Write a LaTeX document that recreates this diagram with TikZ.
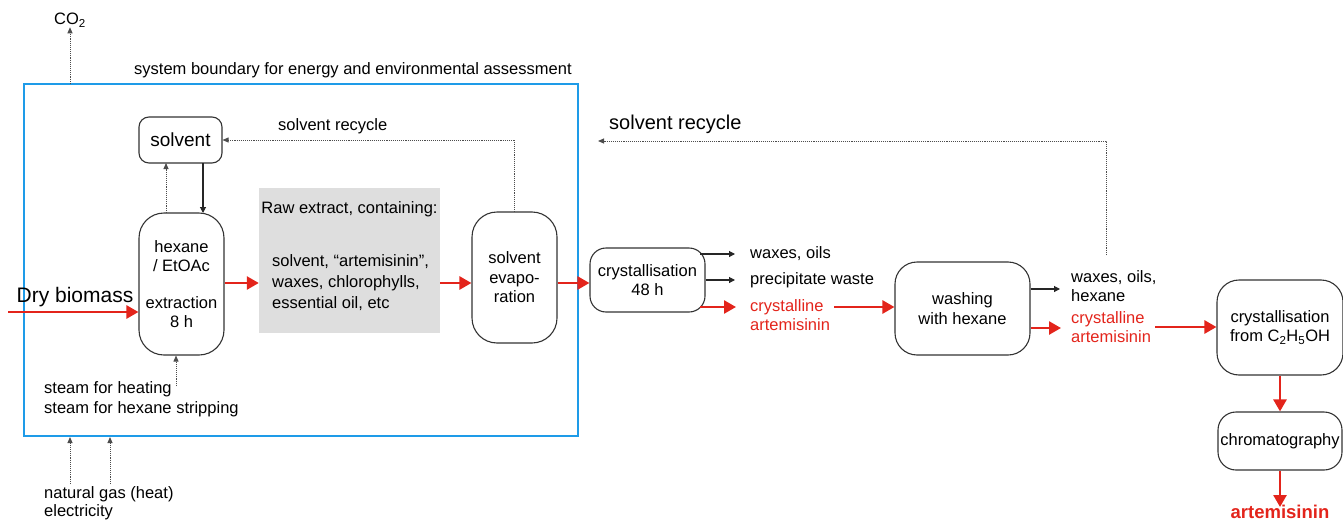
\documentclass[tikz,border=0pt]{standalone}
\usepackage{fontspec}
\setmainfont{Liberation Sans}
\usetikzlibrary{arrows.meta}
\definecolor{bblue}{HTML}{1E9BE8}
\definecolor{rred}{HTML}{E3241B}
\definecolor{ggray}{HTML}{DEDEDE}
\tikzset{
  box/.style={draw=black!80, line width=1.1pt, inner sep=0pt, align=center, font=\fontsize{16.5}{19.5}\selectfont},
  txt/.style={inner sep=0pt, align=left, font=\fontsize{16.5}{19.5}\selectfont},
  redtxt/.style={txt, text=rred},
  redarr/.style={draw=rred, line width=2.6pt, -{Triangle[length=12pt,width=13pt]}},
  blkarr/.style={draw=black!85, line width=1.1pt, -{Triangle[length=6pt,width=6pt]}},
  dotarr/.style={draw=black!70, line width=0.9pt, densely dotted, -{Triangle[length=6pt,width=5pt]}},
}
\begin{document}
\begin{tikzpicture}[x=1pt,y=-1pt]
\useasboundingbox (0,0) rectangle (1343,522);
% system boundary
\draw[bblue, line width=2.2pt] (24,84) rectangle (578,436);
\node[txt, anchor=south west] (sb) at (134,78) {system boundary for energy and environmental assessment};
\node[txt] (co2) at (70,20) {CO\textsubscript{2}};
\coordinate (co2s) at (70,84);
\draw[dotarr] (co2s) -- (co2.south);

% boxes
\node[box, rounded corners=10pt, minimum width=83pt, minimum height=46pt, font=\fontsize{19}{22}\selectfont] (solv) at (180.5,140) {solvent};
\node[box, rounded corners=25pt, minimum width=85pt, minimum height=142pt] (extr) at (181.5,284) {hexane\\/ EtOAc\\[17pt]extraction\\8 h};
\node[fill=ggray, minimum width=181pt, minimum height=145pt, inner sep=0pt] (raw) at (349.5,260.5) {};
\node[txt, anchor=center] (rawt) at (349.5,209) {Raw extract, containing:};
\node[txt, anchor=west, font=\fontsize{16.5}{21}\selectfont] (rawb) at (272,283) {solvent, “artemisinin”,\\waxes, chlorophylls,\\essential oil, etc};
\node[box, rounded corners=25pt, minimum width=85pt, minimum height=131pt, font=\fontsize{16.5}{19.5}\selectfont] (evap) at (514.5,277.5) {solvent\\evapo-\\ration};
\node[box, rounded corners=16pt, minimum width=115pt, minimum height=64pt] (cryst) at (647.5,280) {crystallisation\\48 h};
\node[box, rounded corners=22pt, minimum width=135pt, minimum height=93pt] (wash) at (962.5,308.5) {washing\\with hexane};
\node[box, rounded corners=22pt, minimum width=126pt, minimum height=95pt] (cryst2) at (1280,327.5) {crystallisation\\from C\textsubscript{2}H\textsubscript{5}OH};
\node[box, rounded corners=18pt, minimum width=124pt, minimum height=58pt] (chrom) at (1280,441) {chromatography};
\node[txt, text=rred, font=\fontsize{18.5}{21}\selectfont\bfseries] (art) at (1280,512) {artemisinin};

% input/output labels
\node[txt, font=\fontsize{21}{24}\selectfont] (dry) at (75,297) {Dry biomass};
\coordinate (drys) at (8,312);
\node[txt, anchor=west] (steam) at (44,399) {steam for heating\\steam for hexane stripping};
\node[txt, anchor=west, font=\fontsize{16.5}{17.5}\selectfont] (ng) at (44,503) {natural gas (heat)\\electricity};
\node[txt, anchor=west] (recl) at (278,126) {solvent recycle};
\node[txt, anchor=west, font=\fontsize{20}{23}\selectfont] (recb) at (609,124) {solvent recycle};

\node[txt, anchor=west] (wax1) at (750,254) {waxes, oils};
\node[txt, anchor=west] (prec) at (750,280) {precipitate waste};
\node[redtxt, anchor=west] (ca1) at (750,315) {crystalline\\artemisinin};
\node[txt, anchor=west] (wax2) at (1071,286) {waxes, oils,\\hexane};
\node[redtxt, anchor=west] (ca2) at (1071,327) {crystalline\\artemisinin};

% main red flow
\draw[redarr] (drys) -- (extr.west |- drys);
\draw[redarr] (extr.east |- 0,283) -- (raw.west |- 0,283);
\draw[redarr] (raw.east |- 0,283) -- (evap.west |- 0,283);
\draw[redarr] (evap.east |- 0,283) -- (cryst.west |- 0,283);
\draw[redarr] (700,307) -- ([xshift=-14pt]ca1.west |- 0,307);
\draw[redarr] ([xshift=4pt]ca1.east |- 0,307) -- (wash.west |- 0,307);
\draw[redarr] (wash.east |- 0,328) -- ([xshift=-10pt]ca2.west |- 0,328);
\draw[redarr] ([xshift=4pt]ca2.east |- 0,327) -- (cryst2.west |- 0,327);
\draw[redarr] (cryst2.south) -- (chrom.north);
\draw[redarr] (chrom.south) -- ([yshift=-2pt]art.north);

% black arrows
\draw[blkarr] (700,254) -- ([xshift=-15pt]wax1.west);
\draw[blkarr] (cryst.east |- 0,280) -- ([xshift=-15pt]prec.west);
\draw[blkarr] (wash.east |- 0,289) -- ([xshift=-11pt]wax2.west |- 0,289);
\draw[blkarr] (203,163) -- (203,213);

% dotted
\draw[dotarr] (166,213) -- (166,163);
\draw[dotarr] (evap.north) |- (solv.east);
\coordinate (st) at (176,386);
\draw[dotarr] (st) -- (extr.south -| st);
\coordinate (ng1) at (70,484);
\coordinate (ng2) at (110,484);
\draw[dotarr] (ng1) -- (70,437);
\draw[dotarr] (ng2) -- (110,437);
\coordinate (rs) at (1106,255);
\coordinate (re) at (598,141);
\draw[dotarr] (rs) |- (re);
\end{tikzpicture}
\end{document}
